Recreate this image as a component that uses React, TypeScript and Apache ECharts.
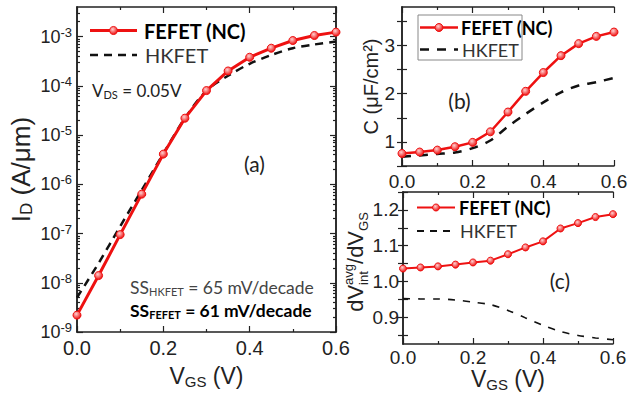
import React, { useEffect, useRef } from "react";
import * as echarts from "echarts";

// ---------- data ----------
const vgs = [0, 0.05, 0.1, 0.15, 0.2, 0.25, 0.3, 0.35, 0.4, 0.45, 0.5, 0.55, 0.6];
// (a) drain current, A/um
const idFefet = [2.2e-9, 1.4e-8, 9.5e-8, 6.3e-7, 4.1e-6, 2.2e-5, 8.0e-5, 2.0e-4, 3.8e-4, 5.8e-4, 8.3e-4, 1.05e-3, 1.23e-3];
const idHkfet = [5.0e-9, 2.5e-8, 1.4e-7, 7.6e-7, 4.2e-6, 2.2e-5, 8.0e-5, 1.6e-4, 2.8e-4, 4.2e-4, 5.8e-4, 6.9e-4, 7.9e-4];
// (b) capacitance, uF/cm2
const capFefet = [0.76, 0.79, 0.83, 0.9, 0.99, 1.21, 1.62, 2.05, 2.44, 2.79, 3.04, 3.19, 3.28];
const capHkfet = [0.69, 0.72, 0.75, 0.78, 0.87, 1.03, 1.32, 1.58, 1.82, 2.03, 2.17, 2.24, 2.33];
// (c) dVint/dVgs
const gainFefet = [1.036, 1.039, 1.042, 1.047, 1.053, 1.058, 1.076, 1.095, 1.112, 1.148, 1.163, 1.18, 1.188];
const gainHkfet = [0.952, 0.951, 0.951, 0.948, 0.942, 0.935, 0.919, 0.898, 0.877, 0.86, 0.849, 0.842, 0.837];
// tick labels
const idDecades = [-9, -8, -7, -6, -5, -4, -3];
const capTicks = [1, 2, 3];
const gainTicks = [0.9, 1.0, 1.1, 1.2];

const FONT_AX = "'Liberation Sans', Arial, sans-serif";
const FONT_AN = "Lato, 'Open Sans', sans-serif";
const RED = "#ee1111";
const INK = "#222";

const ID_MIN = -9;
const ID_MAX = -2.4;

export default function App() {
  const ref = useRef<HTMLDivElement>(null);

  useEffect(() => {
    document.body.style.margin = "0";
    const chart = echarts.init(ref.current!, null, { renderer: "svg" });

    const minorLog: number[] = [];
    for (const n of idDecades) {
      for (let k = 2; k <= 9; k++) {
        const v = n + Math.log10(k);
        if (v < ID_MAX) minorLog.push(v);
      }
    }
    const capMinor = [0.5, 1.5, 2.5, 3.5];
    const gainMinor = [0.85, 0.95, 1.05, 1.15, 1.25];

    const axLine = { show: true, lineStyle: { color: INK, width: 1.5 } };
    const tickLS = { color: INK, width: 1.2 };

    const xAx = (g: number, pos: "bottom" | "top", labels: boolean, fs: number, margin: number, name?: any) => ({
      type: "value",
      gridIndex: g,
      position: pos,
      min: 0,
      max: 0.6,
      interval: 0.2,
      axisLine: axLine,
      axisTick: { show: true, inside: true, length: 6, lineStyle: tickLS },
      minorTick: { show: true, splitNumber: 2, length: 3, lineStyle: tickLS },
      splitLine: { show: false },
      minorSplitLine: { show: false },
      axisLabel: {
        show: labels,
        margin,
        fontSize: fs,
        fontFamily: FONT_AX,
        color: INK,
        formatter: (v: number) => v.toFixed(1),
      },
      ...(name || {}),
    });

    const xName = (gap: number) => ({
      name: "{v|V}{s|GS}{v| (V)}",
      nameLocation: "middle",
      nameGap: gap,
      nameTextStyle: {
        color: INK,
        fontFamily: FONT_AX,
        rich: {
          v: { fontSize: 23, lineHeight: 26, fontFamily: FONT_AX, color: INK },
          s: { fontSize: 15, lineHeight: 15, verticalAlign: "bottom", fontFamily: FONT_AX, color: INK },
        },
      },
    });

    const yTickAx = (g: number, pos: "left" | "right", min: number, max: number, vals: number[], len: number) => ({
      type: "value",
      gridIndex: g,
      position: pos,
      min,
      max,
      axisLine: axLine,
      axisTick: { show: true, inside: true, length: len, lineStyle: tickLS, customValues: vals },
      axisLabel: { show: false },
      splitLine: { show: false },
    });

    const isInt = (v: number) => Math.abs(v - Math.round(v)) < 1e-6;

    const option: any = {
      animation: false,
      grid: [
        { left: 77, top: 7, width: 259, height: 328 },
        { left: 402, top: 7, width: 212, height: 159 },
        { left: 403, top: 192, width: 210, height: 152 },
      ],
      xAxis: [
        xAx(0, "bottom", true, 20, 6, xName(31)),
        xAx(0, "top", false, 20, 6),
        xAx(1, "bottom", true, 19, 6),
        xAx(1, "top", false, 19, 6),
        xAx(2, "bottom", true, 19, 4, xName(22)),
        xAx(2, "top", false, 19, 4),
      ],
      yAxis: [
        {
          type: "value",
          gridIndex: 0,
          position: "left",
          min: ID_MIN,
          max: ID_MAX,
          interval: 1,
          axisLine: axLine,
          axisTick: { show: true, inside: true, length: 6, lineStyle: tickLS, customValues: idDecades },
          splitLine: { show: false },
          axisLabel: {
            margin: 5,
            customValues: idDecades,
            formatter: (v: number) => (isInt(v) ? `{b|10}{s|${Math.round(v)}}` : ""),
            rich: {
              b: { fontSize: 18, lineHeight: 22, fontFamily: FONT_AX, color: INK },
              s: { fontSize: 13, lineHeight: 13, verticalAlign: "top", fontFamily: FONT_AX, color: INK },
            },
          },
          name: "{i|I}{d|D}{i| (A/μm)}",
          nameLocation: "middle",
          nameRotate: 90,
          nameGap: 42,
          nameTextStyle: {
            rich: {
              i: { fontSize: 26, lineHeight: 28, fontFamily: FONT_AX, color: INK },
              d: { fontSize: 17, lineHeight: 17, verticalAlign: "bottom", fontFamily: FONT_AX, color: INK },
            },
          },
        },
        yTickAx(0, "left", ID_MIN, ID_MAX, minorLog, 3),
        yTickAx(0, "right", ID_MIN, ID_MAX, idDecades, 6),
        yTickAx(0, "right", ID_MIN, ID_MAX, minorLog, 3),
        {
          type: "value",
          gridIndex: 1,
          position: "left",
          min: 0.5,
          max: 3.8,
          axisLine: axLine,
          axisTick: { show: true, inside: true, length: 5, lineStyle: tickLS, customValues: [...capTicks, ...capMinor] },
          splitLine: { show: false },
          axisLabel: {
            margin: 7,
            customValues: capTicks,
            fontSize: 19,
            fontFamily: FONT_AX,
            color: INK,
            formatter: (v: number) => String(v),
          },
          name: "C (μF/cm²)",
          nameLocation: "middle",
          nameRotate: 90,
          nameGap: 18,
          nameTextStyle: { fontSize: 20, fontFamily: FONT_AX, color: INK },
        },
        yTickAx(1, "right", 0.5, 3.8, [...capTicks, ...capMinor], 5),
        {
          type: "value",
          gridIndex: 2,
          position: "left",
          min: 0.825,
          max: 1.25,
          axisLine: axLine,
          axisTick: { show: true, inside: true, length: 5, lineStyle: tickLS, customValues: [...gainTicks, ...gainMinor] },
          splitLine: { show: false },
          axisLabel: {
            margin: 4,
            customValues: gainTicks,
            fontSize: 19,
            fontFamily: FONT_AX,
            color: INK,
            formatter: (v: number) => v.toFixed(1),
          },
        },
        yTickAx(2, "right", 0.825, 1.25, [...gainTicks, ...gainMinor], 5),
      ],
      series: [
        {
          type: "line",
          name: "HKFET",
          xAxisIndex: 0,
          yAxisIndex: 0,
          data: vgs.map((v, i) => [v, Math.log10(idHkfet[i])]),
          symbol: "none",
          smooth: 0.3,
          lineStyle: { color: "#111", width: 2.5, type: [8, 6] },
          z: 2,
        },
        redSeries(0, 0, vgs.map((v, i) => [v, Math.log10(idFefet[i])]), 3, 8),
        {
          type: "line",
          name: "HKFET",
          xAxisIndex: 2,
          yAxisIndex: 4,
          data: vgs.map((v, i) => [v, capHkfet[i]]),
          symbol: "none",
          smooth: 0.3,
          lineStyle: { color: "#111", width: 2.5, type: [9, 8] },
          z: 2,
        },
        redSeries(2, 4, vgs.map((v, i) => [v, capFefet[i]]), 2.5, 8),
        {
          type: "line",
          name: "HKFET",
          xAxisIndex: 4,
          yAxisIndex: 6,
          data: vgs.map((v, i) => [v, gainHkfet[i]]),
          symbol: "none",
          smooth: 0.3,
          lineStyle: { color: "#111", width: 1.6, type: [7, 8] },
          z: 2,
        },
        redSeries(4, 6, vgs.map((v, i) => [v, gainFefet[i]]), 2, 7),
      ],
      graphic: { elements: buildGraphics() },
    };

    chart.setOption(option);
    return () => chart.dispose();
  }, []);

  return <div ref={ref} style={{ width: 641, height: 394 }} />;
}

function markerFill() {
  return {
    type: "radial",
    x: 0.4,
    y: 0.35,
    r: 0.65,
    colorStops: [
      { offset: 0, color: "#ffd0d0" },
      { offset: 1, color: RED },
    ],
  };
}

function redSeries(xi: number, yi: number, data: number[][], lw: number, size: number) {
  return {
    type: "line",
    name: "FEFET (NC)",
    xAxisIndex: xi,
    yAxisIndex: yi,
    data,
    symbol: "circle",
    symbolSize: size,
    showSymbol: true,
    lineStyle: { color: RED, width: lw },
    itemStyle: { color: markerFill(), borderColor: RED, borderWidth: 1 },
    z: 3,
  };
}

function legendGroup(x1: number, x2: number, y1: number, y2: number, tx: number, fs: number, lw: number, dash: number[], dlw: number, r: number) {
  return [
    { type: "line", shape: { x1, y1, x2, y2: y1 }, style: { stroke: RED, lineWidth: lw }, z: 10 },
    { type: "circle", shape: { cx: (x1 + x2) / 2, cy: y1, r }, style: { fill: markerFill(), stroke: RED, lineWidth: 1 }, z: 11 },
    {
      type: "text",
      style: { text: "FEFET (NC)", x: tx, y: y1, fontSize: fs, lineHeight: fs, fontWeight: "bold", fontFamily: FONT_AN, fill: "#000", align: "left", verticalAlign: "middle" },
      z: 10,
    },
    { type: "line", shape: { x1, y1: y2, x2, y2 }, style: { stroke: "#111", lineWidth: dlw, lineDash: dash }, z: 10 },
    {
      type: "text",
      style: { text: "HKFET", x: tx + 1, y: y2, fontSize: fs, lineHeight: fs, fontFamily: FONT_AN, fill: "#333", align: "left", verticalAlign: "middle" },
      z: 10,
    },
  ];
}

function buildGraphics() {
  const els: any[] = [];
  // legends
  els.push(...legendGroup(90, 137, 30.5, 55, 144, 20, 3, [8, 6], 2.5, 4));
  els.push({ type: "rect", shape: { x: 418, y: 15, width: 104, height: 45 }, style: { fill: "none", stroke: "#888", lineWidth: 1 }, z: 9 });
  els.push(...legendGroup(420, 458, 27.5, 49.5, 461, 18, 2.5, [9, 8], 2.5, 4));
  els.push(...legendGroup(417, 455, 207.5, 231, 459, 18, 2, [7, 6], 1.8, 3.5));

  const sub = (fs: number, color: string, weight = "normal") => ({
    fontSize: fs, lineHeight: fs, verticalAlign: "bottom", fontFamily: FONT_AN, fill: color, fontWeight: weight,
  });
  const main = (fs: number, color: string, weight = "normal") => ({
    fontSize: fs, lineHeight: fs + 2, fontFamily: FONT_AN, fill: color, fontWeight: weight,
  });

  els.push({
    type: "text",
    style: {
      text: "{v|V}{s|DS}{v| = 0.05V}",
      x: 92, y: 90, align: "left", verticalAlign: "middle",
      rich: { v: main(17, "#222"), s: sub(11, "#222") },
    },
  });
  els.push({
    type: "text",
    style: {
      text: "{v|SS}{s|HKFET}{v| = 65 mV/decade}",
      x: 130, y: 287, align: "left", verticalAlign: "middle",
      rich: { v: main(17.5, "#444"), s: sub(11, "#444") },
    },
  });
  els.push({
    type: "text",
    style: {
      text: "{v|SS}{s|FEFET}{v| = 61 mV/decade}",
      x: 130, y: 310, align: "left", verticalAlign: "middle",
      rich: { v: main(17.5, "#000", "bold"), s: sub(11, "#000", "bold") },
    },
  });
  const panelLabel = (t: string, x: number, y: number) => ({
    type: "text",
    style: { text: t, x, y, fontSize: 21, fontFamily: FONT_AN, fill: "#222", align: "center", verticalAlign: "middle" },
  });
  els.push(panelLabel("(a)", 254.5, 163));
  els.push(panelLabel("(b)", 459.5, 100));
  els.push(panelLabel("(c)", 560, 280));

  // (c) y-axis title: dV_int^avg / dV_GS (rotated)
  const F = 22;
  const S = 13;
  const wdV = (0.556 + 0.667) * F;
  const wavg = (0.556 + 0.5 + 0.556) * S;
  const wslash = (0.278 + 0.556 + 0.667) * F;
  const wGS = (0.778 + 0.667) * S;
  const total = wdV + wavg + wslash + wGS;
  const t = (text: string, x: number, y: number, fs: number) => ({
    type: "text",
    style: { text, x, y, fontSize: fs, fontFamily: FONT_AX, fill: INK, align: "left", verticalAlign: "middle" },
  });
  els.push({
    type: "group",
    x: 355,
    y: 262 + total / 2,
    rotation: Math.PI / 2,
    children: [
      t("dV", 0, 0, F),
      t("avg", wdV, -7, S),
      t("int", wdV, 8, S),
      t("/dV", wdV + wavg, 0, F),
      t("GS", wdV + wavg + wslash, 8, S),
    ],
  });
  return els;
}
